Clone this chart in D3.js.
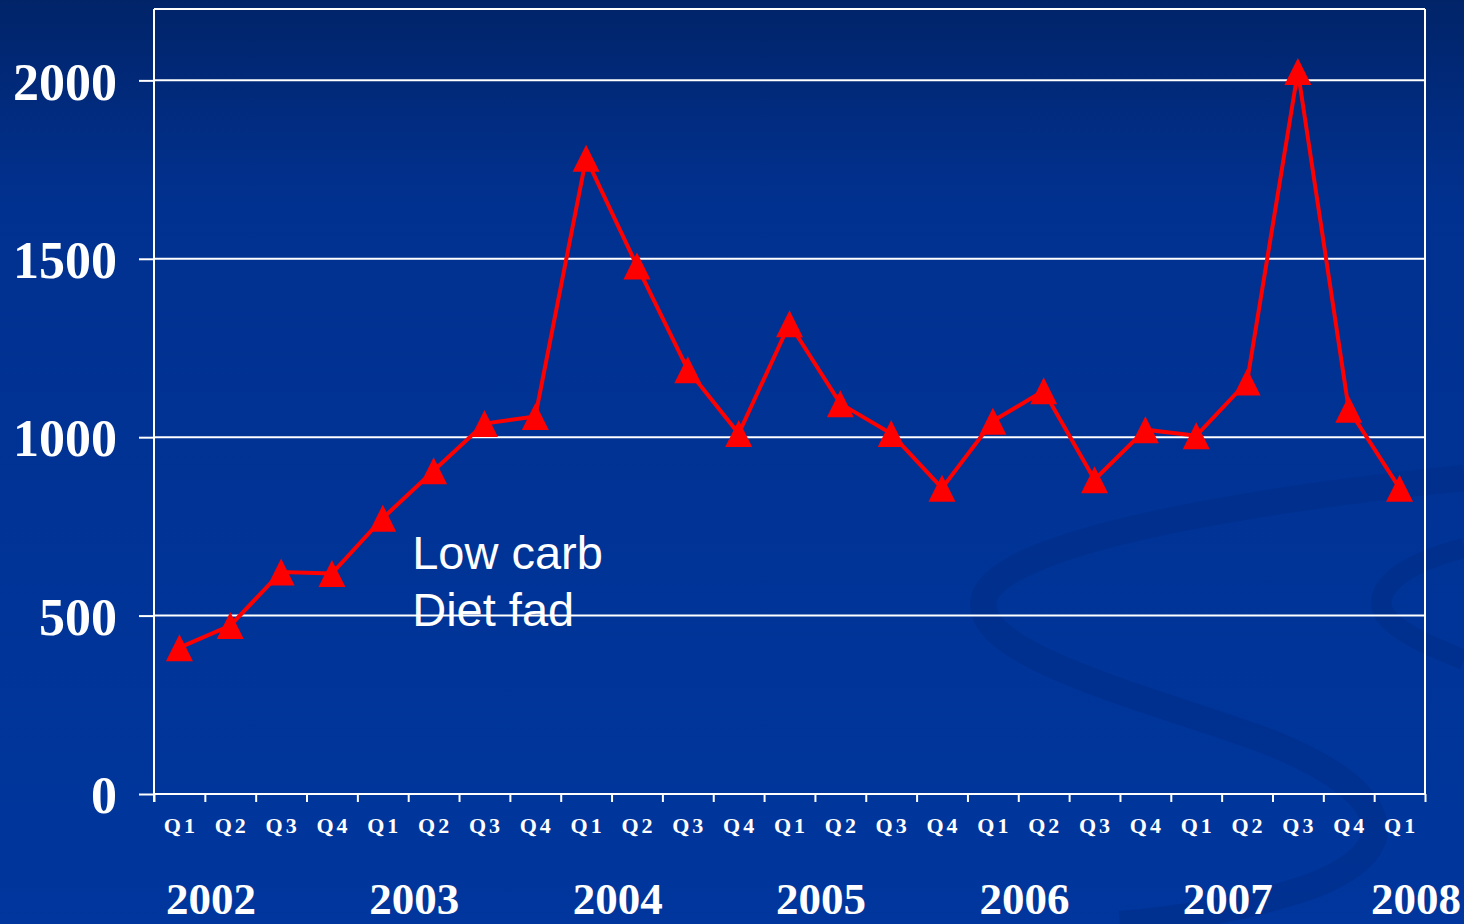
<!DOCTYPE html>
<html>
<head>
<meta charset="utf-8">
<script src="https://cdn.jsdelivr.net/npm/d3@7"></script>
<style>
  html, body { margin: 0; padding: 0; background: #00308f; overflow: hidden; }
  svg { display: block; }
</style>
</head>
<body>
<svg id="chart" width="1464" height="924"></svg>
<script>
// ---- data ----
const quarters = ["Q1","Q2","Q3","Q4","Q1","Q2","Q3","Q4","Q1","Q2","Q3","Q4","Q1","Q2","Q3","Q4","Q1","Q2","Q3","Q4","Q1","Q2","Q3","Q4","Q1"];
const values   = [410, 472, 622, 618, 773, 906, 1038, 1058, 1782, 1480, 1189, 1010, 1318, 1094, 1010, 857, 1045, 1130, 881, 1021, 1004, 1155, 2025, 1078, 857];
const years    = ["2002","2003","2004","2005","2006","2007","2008"];
const yTicks   = [0, 500, 1000, 1500, 2000];
const yMax     = 2200;
const annotation = ["Low carb", "Diet fad"];

// ---- layout ----
const W = 1464, H = 924;
const plot = { left: 154, right: 1425, top: 9, bottom: 794 };
const svg = d3.select("#chart");

// background gradient
const defs = svg.append("defs");
const grad = defs.append("linearGradient").attr("id", "bg").attr("x1", 0).attr("y1", 0).attr("x2", 0).attr("y2", 1);
grad.append("stop").attr("offset", "0%").attr("stop-color", "#012469");
grad.append("stop").attr("offset", "22%").attr("stop-color", "#013190");
grad.append("stop").attr("offset", "100%").attr("stop-color", "#00369d");
svg.append("rect").attr("width", W).attr("height", H).attr("fill", "url(#bg)");

// subtle decorative swoosh
const deco = svg.append("g").attr("fill", "none").attr("stroke", "#002c86").attr("stroke-opacity", 0.5);
deco.append("path")
  .attr("d", "M1464,478 C1250,500 1010,540 985,595 C965,650 1120,690 1250,735 C1390,785 1420,850 1300,890 C1230,912 1170,920 1120,924")
  .attr("stroke-width", 26);
deco.append("path")
  .attr("d", "M1464,548 C1400,565 1370,590 1385,615 C1400,635 1440,650 1464,660")
  .attr("stroke-width", 20);

// ---- scales ----
const x = d3.scaleBand().domain(d3.range(quarters.length)).range([plot.left, plot.right]).padding(0);
const xEdge = d3.scaleLinear().domain([0, quarters.length]).range([plot.left, plot.right]);
const y = d3.scaleLinear().domain([0, yMax]).range([plot.bottom, plot.top]);
const cx = i => x(i) + x.bandwidth() / 2;

// gridlines
svg.append("g").selectAll("line").data(yTicks.filter(d => d > 0)).join("line")
  .attr("x1", plot.left).attr("x2", plot.right)
  .attr("y1", d => y(d)).attr("y2", d => y(d))
  .attr("stroke", "#ffffff").attr("stroke-width", 2);

// frame (top + right)
svg.append("line").attr("x1", plot.left).attr("x2", plot.right).attr("y1", plot.top).attr("y2", plot.top)
  .attr("stroke", "#ffffff").attr("stroke-width", 2);
svg.append("line").attr("x1", plot.right).attr("x2", plot.right).attr("y1", plot.top).attr("y2", plot.bottom)
  .attr("stroke", "#ffffff").attr("stroke-width", 2);

// y axis
const yAxis = svg.append("g").attr("transform", `translate(${plot.left},0)`)
  .call(d3.axisLeft(y).tickValues(yTicks).tickSize(15).tickPadding(22).tickFormat(d3.format("d")));
yAxis.select(".domain").attr("stroke", "#ffffff").attr("stroke-width", 2)
  .attr("d", `M0,${plot.top}V${plot.bottom + 8}`);
yAxis.selectAll(".tick line").attr("stroke", "#ffffff").attr("stroke-width", 2);
yAxis.selectAll(".tick text")
  .attr("fill", "#ffffff")
  .attr("font-family", "'Liberation Serif', 'Times New Roman', serif")
  .attr("font-weight", "bold")
  .attr("font-size", 52)
  .attr("dy", "0.36em");

// x axis (ticks at category boundaries)
const xAxis = svg.append("g").attr("transform", `translate(0,${plot.bottom})`)
  .call(d3.axisBottom(xEdge).tickValues(d3.range(quarters.length + 1)).tickSize(8).tickFormat(""));
xAxis.select(".domain").attr("stroke", "#ffffff").attr("stroke-width", 2)
  .attr("d", `M${plot.left},0H${plot.right}`);
xAxis.selectAll(".tick line").attr("stroke", "#ffffff").attr("stroke-width", 2);

// quarter labels
svg.append("g").selectAll("text").data(quarters).join("text")
  .attr("x", (d, i) => cx(i) + 1.5)
  .attr("y", plot.bottom + 39)
  .attr("text-anchor", "middle")
  .attr("fill", "#ffffff")
  .attr("font-family", "'Liberation Serif', 'Times New Roman', serif")
  .attr("font-weight", "bold")
  .attr("font-size", 22)
  .attr("letter-spacing", 3)
  .text(d => d);

// year labels (placed near the Q1 of each year)
const q1Index = quarters.map((q, i) => q === "Q1" ? i : -1).filter(i => i >= 0);
svg.append("g").selectAll("text").data(years).join("text")
  .attr("x", (d, k) => Math.min(cx(q1Index[k]) + 0.62 * x.bandwidth(), W - 48))
  .attr("y", 914)
  .attr("text-anchor", "middle")
  .attr("fill", "#ffffff")
  .attr("font-family", "'Liberation Serif', 'Times New Roman', serif")
  .attr("font-weight", "bold")
  .attr("font-size", 45)
  .text(d => d);

// line
const line = d3.line().x((d, i) => cx(i)).y(d => y(d));
svg.append("path").datum(values)
  .attr("d", line)
  .attr("fill", "none")
  .attr("stroke", "#ff0000")
  .attr("stroke-width", 4)
  .attr("stroke-linejoin", "miter");

// triangle markers
const hs = 13.5;
svg.append("g").selectAll("path").data(values).join("path")
  .attr("transform", (d, i) => `translate(${cx(i)},${y(d)})`)
  .attr("d", `M0,${-hs}L${hs},${hs}L${-hs},${hs}Z`)
  .attr("fill", "#ff0000");

// annotation
const ann = svg.append("text")
  .attr("fill", "#ffffff")
  .attr("font-family", "'Liberation Sans', Arial, sans-serif")
  .attr("font-size", 47);
ann.selectAll("tspan").data(annotation).join("tspan")
  .attr("x", x(5) + 4)
  .attr("y", (d, i) => y(630) + i * 57)
  .text(d => d);
</script>
</body>
</html>
